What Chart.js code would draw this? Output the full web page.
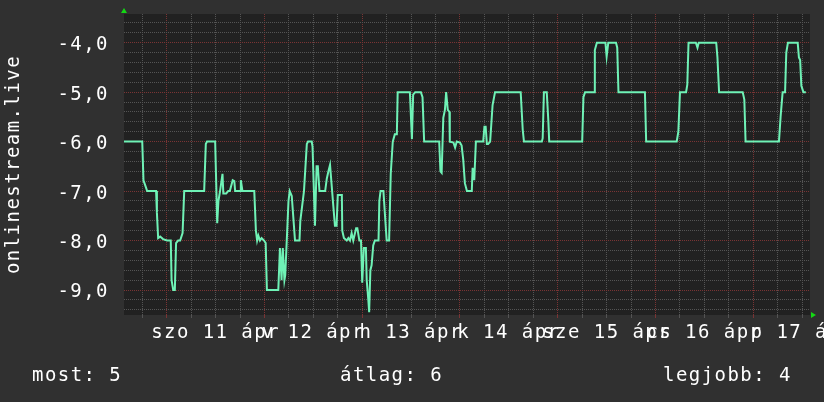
<!DOCTYPE html>
<html><head><meta charset="utf-8">
<script src="https://cdn.jsdelivr.net/npm/chart.js@4"></script>
<style>
html,body{margin:0;padding:0;background:#303030;}
#wrap{position:relative;width:824px;height:402px;overflow:hidden;background:#303030;}
canvas{position:absolute;left:0;top:0;}
.lg{position:absolute;top:365px;font-family:"DejaVu Sans Mono",monospace;font-size:19px;line-height:19px;letter-spacing:1.45px;color:#ffffff;white-space:pre;}
</style></head><body>
<div id="wrap">
<canvas id="c" width="824" height="402"></canvas>
<div class="lg" id="lg0" style="left:32px"></div>
<div class="lg" id="lg1" style="left:340px"></div>
<div class="lg" id="lg2" style="left:663px"></div>
</div>
<script>
// time in hours since Apr 10 00:00
const hours = [
 13.5,18.0,18.3,18.8,19.2,21.4,21.6,21.9,22.4,23.1,
 24.1,25.0,25.2,25.6,26.0,26.3,26.8,27.3,27.9,28.3,
 33.2,33.6,33.9,35.9,36.4,36.7,37.1,37.7,37.9,38.6,
 39.1,39.5,40.2,40.6,40.8,42.0,42.2,42.6,45.5,45.9,
 46.2,46.5,46.9,47.3,47.9,48.3,48.6,51.4,51.8,52.2,
 52.5,52.9,53.1,53.9,54.2,54.7,55.5,56.6,56.8,57.7,
 58.4,58.7,59.6,59.8,60.4,60.8,61.1,61.5,62.9,63.3,
 63.7,64.1,64.3,64.9,65.3,65.7,66.0,67.0,67.1,67.5,
 68.2,68.6,69.0,69.4,69.8,70.5,70.8,71.3,71.7,72.0,
 72.4,72.9,73.1,73.5,73.7,74.0,74.3,74.7,75.1,76.0,
 76.2,76.5,77.2,77.6,78.0,78.6,79.0,79.5,80.0,80.5,
 80.7,83.7,84.2,84.5,85.0,86.4,86.8,87.2,90.9,91.2,
 91.5,91.9,92.3,92.6,93.0,93.4,93.5,94.4,94.8,95.2,
 96.0,96.4,96.8,97.2,97.7,98.9,99.1,99.5,99.9,101.7,
 102.0,102.3,102.6,102.9,103.4,104.0,104.6,110.9,111.4,111.7,
 116.1,116.3,116.6,117.3,117.7,117.9,126.0,126.3,126.7,128.9,
 129.1,129.6,131.7,132.0,132.4,134.3,134.6,134.9,141.4,141.7,
 149.2,149.6,150.0,151.5,151.8,152.1,153.9,154.3,154.6,158.9,
 159.2,159.6,165.4,165.8,166.1,174.3,174.7,175.2,175.8,176.1,
 176.5,178.9,179.2,179.5,179.8,180.3,180.9
];
const values = [
 -6.0,-6.0,-6.78,-6.9,-7.0,-7.0,-7.44,-7.95,-7.92,-7.97,
 -8.0,-8.0,-8.8,-9.0,-9.0,-8.05,-8.0,-8.0,-7.85,-7.0,
 -7.0,-6.05,-6.0,-6.0,-7.65,-7.2,-7.0,-6.65,-7.05,-7.05,
 -7.0,-7.0,-6.78,-6.8,-7.0,-7.0,-6.78,-7.0,-7.0,-7.8,
 -8.0,-7.9,-8.0,-7.95,-8.0,-8.05,-9.0,-9.0,-8.15,-8.8,
 -8.15,-8.8,-8.7,-7.2,-7.0,-7.1,-8.0,-8.0,-7.6,-7.0,
 -6.05,-6.0,-6.0,-6.1,-7.7,-6.5,-6.5,-7.0,-7.0,-6.75,
 -6.6,-6.47,-6.47,-7.3,-7.7,-7.7,-7.08,-7.08,-7.8,-7.95,
 -8.0,-7.95,-8.0,-7.85,-8.0,-7.75,-7.75,-8.0,-8.0,-8.85,
 -8.15,-8.15,-8.8,-9.2,-9.45,-8.6,-8.5,-8.1,-8.0,-8.0,
 -7.2,-7.0,-7.0,-7.5,-8.0,-8.0,-6.65,-6.0,-5.85,-5.85,
 -5.0,-5.0,-5.95,-5.05,-5.0,-5.0,-5.1,-6.0,-6.0,-6.6,
 -6.63,-5.52,-5.36,-5.0,-5.36,-5.4,-6.0,-6.02,-6.12,-6.0,
 -6.02,-6.08,-6.37,-6.84,-7.0,-7.0,-6.53,-6.78,-6.0,-6.0,
 -5.7,-5.7,-6.05,-6.05,-6.0,-5.26,-5.0,-5.0,-5.76,-6.0,
 -6.0,-5.93,-5.0,-5.0,-5.6,-6.0,-6.0,-5.1,-5.0,-5.0,
 -4.15,-4.0,-4.0,-4.28,-4.0,-4.0,-4.1,-5.0,-5.0,-6.0,
 -6.0,-5.8,-5.0,-5.0,-4.85,-4.0,-4.0,-4.1,-4.0,-4.0,
 -4.3,-5.0,-5.0,-5.15,-6.0,-6.0,-5.5,-5.0,-5.0,-4.2,
 -4.0,-4.0,-4.3,-4.35,-4.87,-5.0,-5.0
];
const dayLabelHours = [36, 60, 84, 108, 132, 156, 180];
const dayLabels = ['szo 11 ápr', 'v 12 ápr', 'h 13 ápr', 'k 14 ápr', 'sze 15 ápr', 'cs 16 ápr', 'p 17 ápr'];
const yLabelValues = [-9, -8, -7, -6, -5, -4];
const yLabels = ['-9,0', '-8,0', '-7,0', '-6,0', '-5,0', '-4,0'];
const axisTitle = 'onlinestream.live';
const legendTexts = ['most: 5', 'átlag: 6', 'legjobb: 4'];

const X_MIN = 13.52, X_MAX = 181.92, Y_MIN = -9.505, Y_MAX = -3.42;
const FONT = 'DejaVu Sans Mono';
const LS = '1.45px';
const MAJOR = '#7a3434', MINOR = '#545454';
const TXT = '#ffffff';

legendTexts.forEach((t, i) => { document.getElementById('lg' + i).textContent = t; });

const rrdPlugin = {
  id: 'rrd',
  beforeLayout(chart) { chart.ctx.letterSpacing = LS; },
  beforeDraw(chart) {
    const ctx = chart.ctx, a = chart.chartArea;
    ctx.letterSpacing = LS;
    ctx.save();
    ctx.fillStyle = '#303030';
    ctx.fillRect(0, 0, chart.width, chart.height);
    ctx.fillStyle = '#212121';
    ctx.fillRect(a.left, a.top, a.right - a.left, a.bottom - a.top);
    ctx.restore();
  },
  afterDraw(chart) {
    const ctx = chart.ctx, a = chart.chartArea;
    ctx.save();
    ctx.fillStyle = '#14d814';
    ctx.beginPath();
    ctx.moveTo(a.left - 3, a.top - 1);
    ctx.lineTo(a.left + 3, a.top - 1);
    ctx.lineTo(a.left, a.top - 6);
    ctx.closePath();
    ctx.fill();
    ctx.beginPath();
    ctx.moveTo(a.right + 1, a.bottom - 3);
    ctx.lineTo(a.right + 1, a.bottom + 3);
    ctx.lineTo(a.right + 6, a.bottom);
    ctx.closePath();
    ctx.fill();
    ctx.restore();
  }
};

const isInt = v => Math.abs(v - Math.round(v)) < 1e-6;

new Chart(document.getElementById('c'), {
  type: 'line',
  data: {
    datasets: [{
      data: hours.map((h, i) => ({ x: h, y: values[i] })),
      borderColor: '#6ff2b6',
      borderWidth: 2,
      pointRadius: 0,
      tension: 0,
      fill: false
    }]
  },
  options: {
    responsive: false,
    animation: false,
    devicePixelRatio: 1,
    layout: { padding: { left: 0, top: 14, right: 14, bottom: 47 } },
    plugins: { legend: { display: false }, tooltip: { enabled: false } },
    scales: {
      x: {
        type: 'linear',
        min: X_MIN, max: X_MAX,
        afterBuildTicks(s) {
          const t = [];
          for (let h = Math.ceil(X_MIN / 6) * 6; h <= X_MAX; h += 6) t.push({ value: h });
          s.ticks = t;
        },
        afterFit(s) { s.height = 40; s.paddingLeft = 0; s.paddingRight = 0; },
        grid: {
          color: c => (c.tick && c.tick.value % 24 === 0) ? MAJOR : MINOR,
          tickColor: c => (c.tick && c.tick.value % 24 === 0) ? MAJOR : MINOR,
          lineWidth: 1, drawTicks: true, tickLength: 3
        },
        border: { display: false, dash: [1, 1] },
        ticks: {
          autoSkip: false, maxRotation: 0, minRotation: 0, padding: 6, color: TXT,
          font: { family: FONT, size: 19, lineHeight: 1 },
          callback: v => { const i = dayLabelHours.indexOf(v); return i >= 0 ? dayLabels[i] : ''; }
        }
      },
      y: {
        type: 'linear',
        min: Y_MIN, max: Y_MAX,
        afterBuildTicks(s) {
          const t = [];
          for (let k = Math.ceil(Y_MIN * 5); k <= Math.floor(Y_MAX * 5); k++) t.push({ value: k / 5 });
          s.ticks = t;
        },
        afterFit(s) { s.width = 124; s.paddingTop = 0; s.paddingBottom = 0; },
        grid: {
          color: c => (c.tick && isInt(c.tick.value)) ? MAJOR : MINOR,
          lineWidth: 1, drawTicks: false
        },
        border: { display: false, dash: [1, 1] },
        ticks: {
          autoSkip: false, padding: 15, labelOffset: 2.5, color: TXT,
          font: { family: FONT, size: 19, lineHeight: 1 },
          callback: v => {
            const i = yLabelValues.findIndex(y => Math.abs(y - v) < 1e-6);
            return i >= 0 ? yLabels[i] : '';
          }
        },
        title: {
          display: true, text: axisTitle, color: TXT,
          font: { family: FONT, size: 19, lineHeight: 1 },
          padding: { top: 5, bottom: 0 }
        }
      }
    }
  },
  plugins: [rrdPlugin]
});
</script>
</body></html>
